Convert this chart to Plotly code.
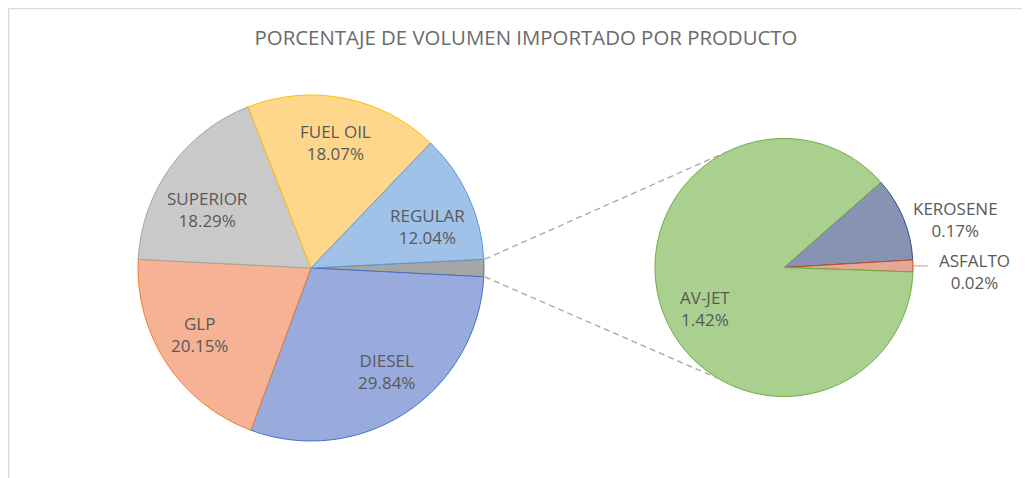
import math
import plotly.graph_objects as go

# ---------------- data ----------------
main_labels = ["DIESEL", "GLP", "SUPERIOR", "FUEL OIL", "REGULAR"]
main_values = [29.84, 20.15, 18.29, 18.07, 12.04]
sec_labels = ["KEROSENE", "ASFALTO", "AV-JET"]
sec_values = [0.17, 0.024, 1.42]
title_text = "PORCENTAJE DE VOLUMEN IMPORTADO POR PRODUCTO"

# ---------------- style ----------------
W, H = 1030, 478
OFF = 8  # page body margin: figure is drawn at (8, 8) on the page
main_fill = ["#99ABDD", "#F5B294", "#C9C9C9", "#FFD78C", "#A0C1E8"]
main_line = ["#4472C4", "#ED7D31", "#A5A5A5", "#FFC000", "#5B9BD5"]
other_fill, other_line = "#A6A6A6", "#6F6F6F"
sec_fill = ["#8893B3", "#E6A796", "#A9D08F"]
sec_line = ["#2F4F8F", "#C0501A", "#70AD47"]
TXT = "#595959"
FONT = "Open Sans"

MC, MR = (311.0, 268.0), 173.0     # main pie centre / radius (page px)
SC, SR = (784.0, 267.5), 129.0     # secondary pie centre / radius (page px)
SEC_ROT = 48.7                      # start of first secondary slice (deg cw from top)

def px2paper(x, y):
    return (x - OFF) / W, 1 - (y - OFF) / H

def polar(c, r, ang):
    a = math.radians(ang)
    return c[0] + r * math.sin(a), c[1] - r * math.cos(a)

def domain(c, r):
    x0, y1 = px2paper(c[0] - r, c[1] - r)
    x1, y0 = px2paper(c[0] + r, c[1] + r)
    return dict(x=[x0, x1], y=[y0, y1])

other_val = sum(sec_values)
all_labels = ["Otros"] + main_labels
all_values = [other_val] + main_values
total = sum(all_values)
other_deg = other_val / total * 360
MAIN_ROT = 90 - other_deg / 2

fig = go.Figure()
fig.add_trace(go.Pie(
    labels=all_labels, values=all_values, sort=False, direction="clockwise",
    rotation=MAIN_ROT, domain=domain(MC, MR), textinfo="none",
    marker=dict(colors=[other_fill] + main_fill,
                line=dict(color=[other_line] + main_line, width=1)),
    showlegend=False, hoverinfo="label+percent",
))
fig.add_trace(go.Pie(
    labels=sec_labels, values=sec_values, sort=False, direction="clockwise",
    rotation=SEC_ROT, domain=domain(SC, SR), textinfo="none",
    marker=dict(colors=sec_fill, line=dict(color=sec_line, width=1)),
    showlegend=False, hoverinfo="label+value",
))

annotations = []
shapes = []

def add_label(x, y, text, xanchor="center"):
    px, py = px2paper(x, y)
    annotations.append(dict(x=px, y=py, xref="paper", yref="paper", text=text,
                            showarrow=False, xanchor=xanchor, yanchor="middle",
                            align="center", font=dict(family=FONT, size=17, color=TXT)))

# main pie labels
main_nudge = {"SUPERIOR": (0, 16), "REGULAR": (0, 12), "DIESEL": (5, -3), "GLP": (-5, -4)}
cum = other_val
for lab, val in zip(main_labels, main_values):
    mid = MAIN_ROT + (cum + val / 2) / total * 360
    x, y = polar(MC, MR * 0.74, mid)
    dx, dy = main_nudge.get(lab, (0, 0))
    add_label(x + dx, y + dy, f"{lab}<br>{val:.2f}%")
    cum += val

# secondary pie labels
cum = 0
for lab, val in zip(sec_labels, sec_values):
    mid = SEC_ROT + (cum + val / 2) / other_val * 360
    text = f"{lab}<br>{val:.2f}%"
    if lab == "AV-JET":
        x, y = polar(SC, SR * 0.69, mid)
        add_label(x + 5, y + 11, text)
    elif lab == "KEROSENE":
        x, y = polar(SC, SR, mid)
        add_label(x + 8, y + 1, text, xanchor="left")
    else:
        x, y = polar(SC, SR, mid)
        shapes.append(dict(type="line", xref="paper", yref="paper",
                           x0=px2paper(x, y)[0], y0=px2paper(x, y)[1],
                           x1=px2paper(x + 15, y)[0], y1=px2paper(x + 15, y)[1],
                           line=dict(color="#A6A6A6", width=1)))
        add_label(x + 24, y + 6, text, xanchor="left")
    cum += val

# connector lines between pies
for a_main, a_sec in [(MAIN_ROT, 334.9), (MAIN_ROT + other_deg, 210.7)]:
    x0, y0 = polar(MC, MR + 1, a_main)
    x1, y1 = polar(SC, SR, a_sec)
    p0, p1 = px2paper(x0, y0), px2paper(x1, y1)
    shapes.append(dict(type="line", xref="paper", yref="paper",
                       x0=p0[0], y0=p0[1], x1=p1[0], y1=p1[1],
                       line=dict(color="#A6A6A6", width=1.3, dash="6px,4px")))

# chart frame (top and left edge visible)
fx, fy = px2paper(8.5, 8.5)
shapes.append(dict(type="line", xref="paper", yref="paper", x0=fx, x1=1,
                   y0=fy, y1=fy, line=dict(color="#D9D9D9", width=1.5)))
shapes.append(dict(type="line", xref="paper", yref="paper", x0=fx, x1=fx,
                   y0=0, y1=fy, line=dict(color="#D9D9D9", width=1.5)))

tx, ty = px2paper(526, 37.5)
fig.update_layout(
    width=W, height=H, margin=dict(l=0, r=0, t=0, b=0),
    paper_bgcolor="white", plot_bgcolor="white",
    title=dict(text=title_text, x=tx, xanchor="center", y=ty,
               yanchor="middle", yref="container",
               font=dict(family=FONT, size=20.4, color="#6B6B6B")),
    annotations=annotations, shapes=shapes,
)

fig.write_html("out.html")
